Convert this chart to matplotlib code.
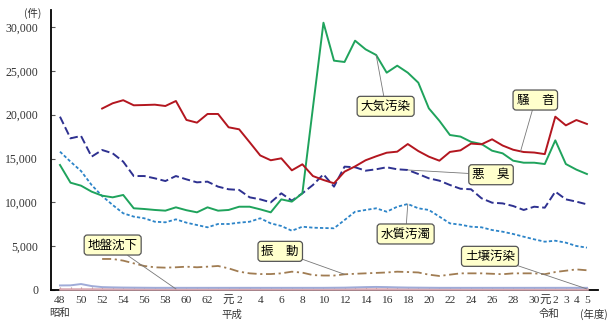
import matplotlib
matplotlib.use("Agg")
import matplotlib.pyplot as plt
import numpy as np

# fiscal years S48 (1973) .. R5 (2023), one value per year
years = np.arange(1973, 2024)
idx = np.arange(len(years))

noise = [None, None, None, None,
         20700, 21300, 21650, 21070, 21100, 21140, 20990, 21560, 19400, 19090, 20080, 20080,
         18560, 18330, 16850, 15350, 14800, 15020, 13650, 14340, 13000, 12550, 12170, 13500,
         14100, 14800, 15250, 15660, 15780, 16650, 15850, 15210, 14750, 15750, 15930, 16700,
         16620, 17190, 16480, 16000, 15740, 15680, 15500, 19770, 18780, 19390, 18940]
air = [14260, 12240, 11900, 11220, 10760, 10570, 10840, 9320, 9240, 9130, 9050, 9430,
       9100, 8860, 9430, 9050, 9130, 9500, 9500, 9200, 8860, 10340, 10080, 11030, 20800,
       30490, 26160, 26010, 28440, 27450, 26810, 24790, 25590, 24790, 23650, 20720, 19300,
       17680, 17500, 16900, 16650, 15890, 15590, 14750, 14520, 14520, 14370, 17070, 14370,
       13730, 13230]
odor = [19770, 17300, 17570, 15210, 15970, 15590, 14640, 13000, 13000, 12740, 12430, 13000,
        12620, 12280, 12360, 11790, 11490, 11410, 10570, 10340, 10000, 11030, 10190, 11030,
        11980, 13200, 11790, 14070, 14000, 13610, 13770, 14000, 13770, 13690, 13230, 12740,
        12470, 11980, 11550, 11490, 10460, 9960, 9880, 9580, 9130, 9500, 9390, 11220, 10340,
        10080, 9770]
water = [15780, 14640, 13570, 11980, 10720, 9700, 8750, 8370, 8180, 7790, 7720, 8060, 7680,
         7410, 7150, 7530, 7530, 7680, 7790, 8180, 7600, 7300, 6760, 7220, 7110, 7070, 7040,
         7980, 8930, 9130, 9320, 8930, 9500, 9810, 9320, 9130, 8370, 7600, 7450, 7220, 7150,
         6840, 6650, 6390, 6080, 5780, 5510, 5620, 5400, 5020, 4830]
vibration = [None, None, None, None,
             3540, 3540, 3350, 3040, 2740, 2590, 2550, 2590, 2660, 2590, 2660, 2740, 2470,
             2090, 1900, 1820, 1820, 1900, 2090, 1980, 1700, 1650, 1650, 1790, 1850, 1900,
             1950, 2000, 2090, 2050, 2000, 1750, 1600, 1750, 1900, 1900, 1900, 1850, 1800,
             1900, 1900, 1900, 1800, 2050, 2200, 2350, 2250]
soil = [520, 530, 680, 450, 330, 300, 280, 270, 260, 250, 250, 250, 250, 250, 250, 250, 250,
        250, 250, 250, 250, 250, 250, 250, 250, 250, 260, 270, 300, 330, 350, 330, 300, 280,
        270, 260, 250, 250, 250, 250, 250, 250, 250, 250, 250, 250, 250, 250, 250, 250, 250]
subsidence = [120] * len(years)

xtick_labels = ["48", "", "50", "", "52", "", "54", "", "56", "", "58", "", "60", "", "62", "",
                "元", "2", "", "4", "", "6", "", "8", "", "10", "", "12", "", "14", "", "16", "",
                "18", "", "20", "", "22", "", "24", "", "26", "", "28", "", "30",
                "元", "2", "3", "4", "5"]


def arr(v):
    return np.array([np.nan if a is None else a for a in v], dtype=float)


W, H = 614, 329
fig = plt.figure(figsize=(W / 100, H / 100), dpi=100)
ax = fig.add_axes([50.7 / W, 1 - 290 / H, (598 - 50.7) / W, 280 / H])

jp = ["Noto Sans CJK JP", "DejaVu Sans"]
num = ["Liberation Serif", "DejaVu Serif"]

ax.plot(idx, arr(subsidence), color="#d9a9b2", lw=1.8, zorder=3, clip_on=False)
ax.plot(idx, arr(soil), color="#9fabd8", lw=1.4, zorder=3, clip_on=False)
ax.plot(idx, arr(vibration), color="#a07c52", lw=1.3, dashes=(5, 2, 1.2, 2), zorder=4)
ax.plot(idx, arr(water), color="#2c84c8", lw=1.3, dashes=(1.8, 1.2), zorder=4)
ax.plot(idx, arr(odor), color="#2e3190", lw=1.4, dashes=(4.2, 1.8), zorder=4)
ax.plot(idx, arr(air), color="#1fa35c", lw=1.4, zorder=5)
ax.plot(idx, arr(noise), color="#b3161f", lw=1.4, zorder=5)

ax.set_xlim(-0.88, 51.05)
ax.set_ylim(0, 31940)
for s in ["top", "right"]:
    ax.spines[s].set_visible(False)
ax.spines["left"].set_linewidth(1.3)
ax.spines["bottom"].set_linewidth(1.3)

ax.set_yticks(np.arange(0, 30001, 5000))
ax.set_yticklabels([f"{v:,}" for v in range(0, 30001, 5000)], family=num, fontsize=8.5,
                   color="#333333")
ax.tick_params(axis="y", direction="in", length=3, pad=9, color="#555555")
ax.set_xticks(idx)
ax.set_xticklabels(xtick_labels, family=num + ["Noto Sans CJK JP"], fontsize=8.2,
                   color="#333333")
ax.tick_params(axis="x", direction="in", length=2.5, pad=4, color="#b08890", width=0.8)

# era / unit labels
for txt, px, py in [("昭和", 60, 313), ("平成", 232, 315), ("令和", 549, 314),
                    ("(年度)", 594, 314), ("(件)", 33, 13)]:
    fig.text(px / W, 1 - py / H, txt, family=jp, fontsize=7.5, color="#333333",
             ha="center", va="center")

box = dict(boxstyle="round,pad=0.28,rounding_size=0.25", fc="#ffffcc", ec="#555555", lw=0.9)
arrow = dict(arrowstyle="-", color="#777777", lw=0.6, shrinkA=0, shrinkB=0)


def label(txt, x, y, tip):
    ax.annotate(txt, xy=tip, xytext=(x, y), family=jp, fontsize=9, ha="center",
                va="center", bbox=box, arrowprops=arrow, zorder=6, annotation_clip=False)


label("大気汚染", 30.9, 20950, (30, air[30]))
label("騒　音", 45.1, 21670, (43.7, np.interp(43.7, idx, arr(noise))))
label("悪　臭", 40.9, 13150, (33, odor[33]))
label("水質汚濁", 32.8, 6390, (33, water[33]))
label("土壌汚染", 40.8, 3840, (50, subsidence[50]))
label("地盤沈下", 5.0, 5130, (11, subsidence[11]))
label("振　動", 20.9, 4410, (27, vibration[27]))

fig.savefig("out.png", dpi=100)
